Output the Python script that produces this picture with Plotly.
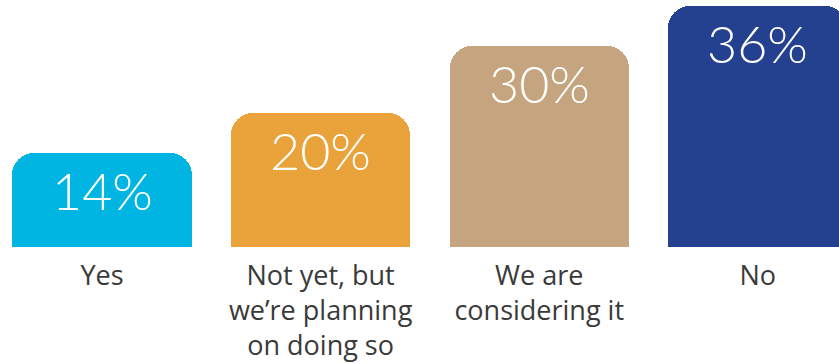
import plotly.graph_objects as go

# Survey responses and their shares (%)
categories = ["Yes", "Not yet, but<br>we’re planning<br>on doing so", "We are<br>considering it", "No"]
values = [14, 20, 30, 36]
colors = ["#00B5E2", "#EAA33A", "#C4A580", "#24418F"]

positions = list(range(len(categories)))

fig = go.Figure(
    go.Bar(
        x=positions,
        y=values,
        width=0.819,
        marker=dict(color=colors, line=dict(width=0), cornerradius=22),
        hoverinfo="skip",
    )
)

# Percentage labels inside the top of each bar
for x, v in zip(positions, values):
    fig.add_annotation(
        x=x, y=v, xref="x", yref="y",
        text=f"{v}%", showarrow=False,
        yanchor="top", yshift=-4,
        font=dict(family="Lato", size=52, color="white", weight=300),
    )

fig.update_layout(
    width=839, height=364,
    margin=dict(l=0, r=0, t=0, b=117),
    paper_bgcolor="white", plot_bgcolor="white",
    showlegend=False,
    bargap=0,
    xaxis=dict(
        range=[-0.4666, 3.3714],
        tickmode="array", tickvals=positions, ticktext=categories,
        showgrid=False, zeroline=False, showline=False, ticks="",
        ticklabelstandoff=10,
        tickfont=dict(family="Open Sans", size=27, color="#3a3a3a"),
        fixedrange=True,
    ),
    yaxis=dict(
        range=[0, 36.87], visible=False, fixedrange=True,
    ),
)

fig.write_html("out.html")
